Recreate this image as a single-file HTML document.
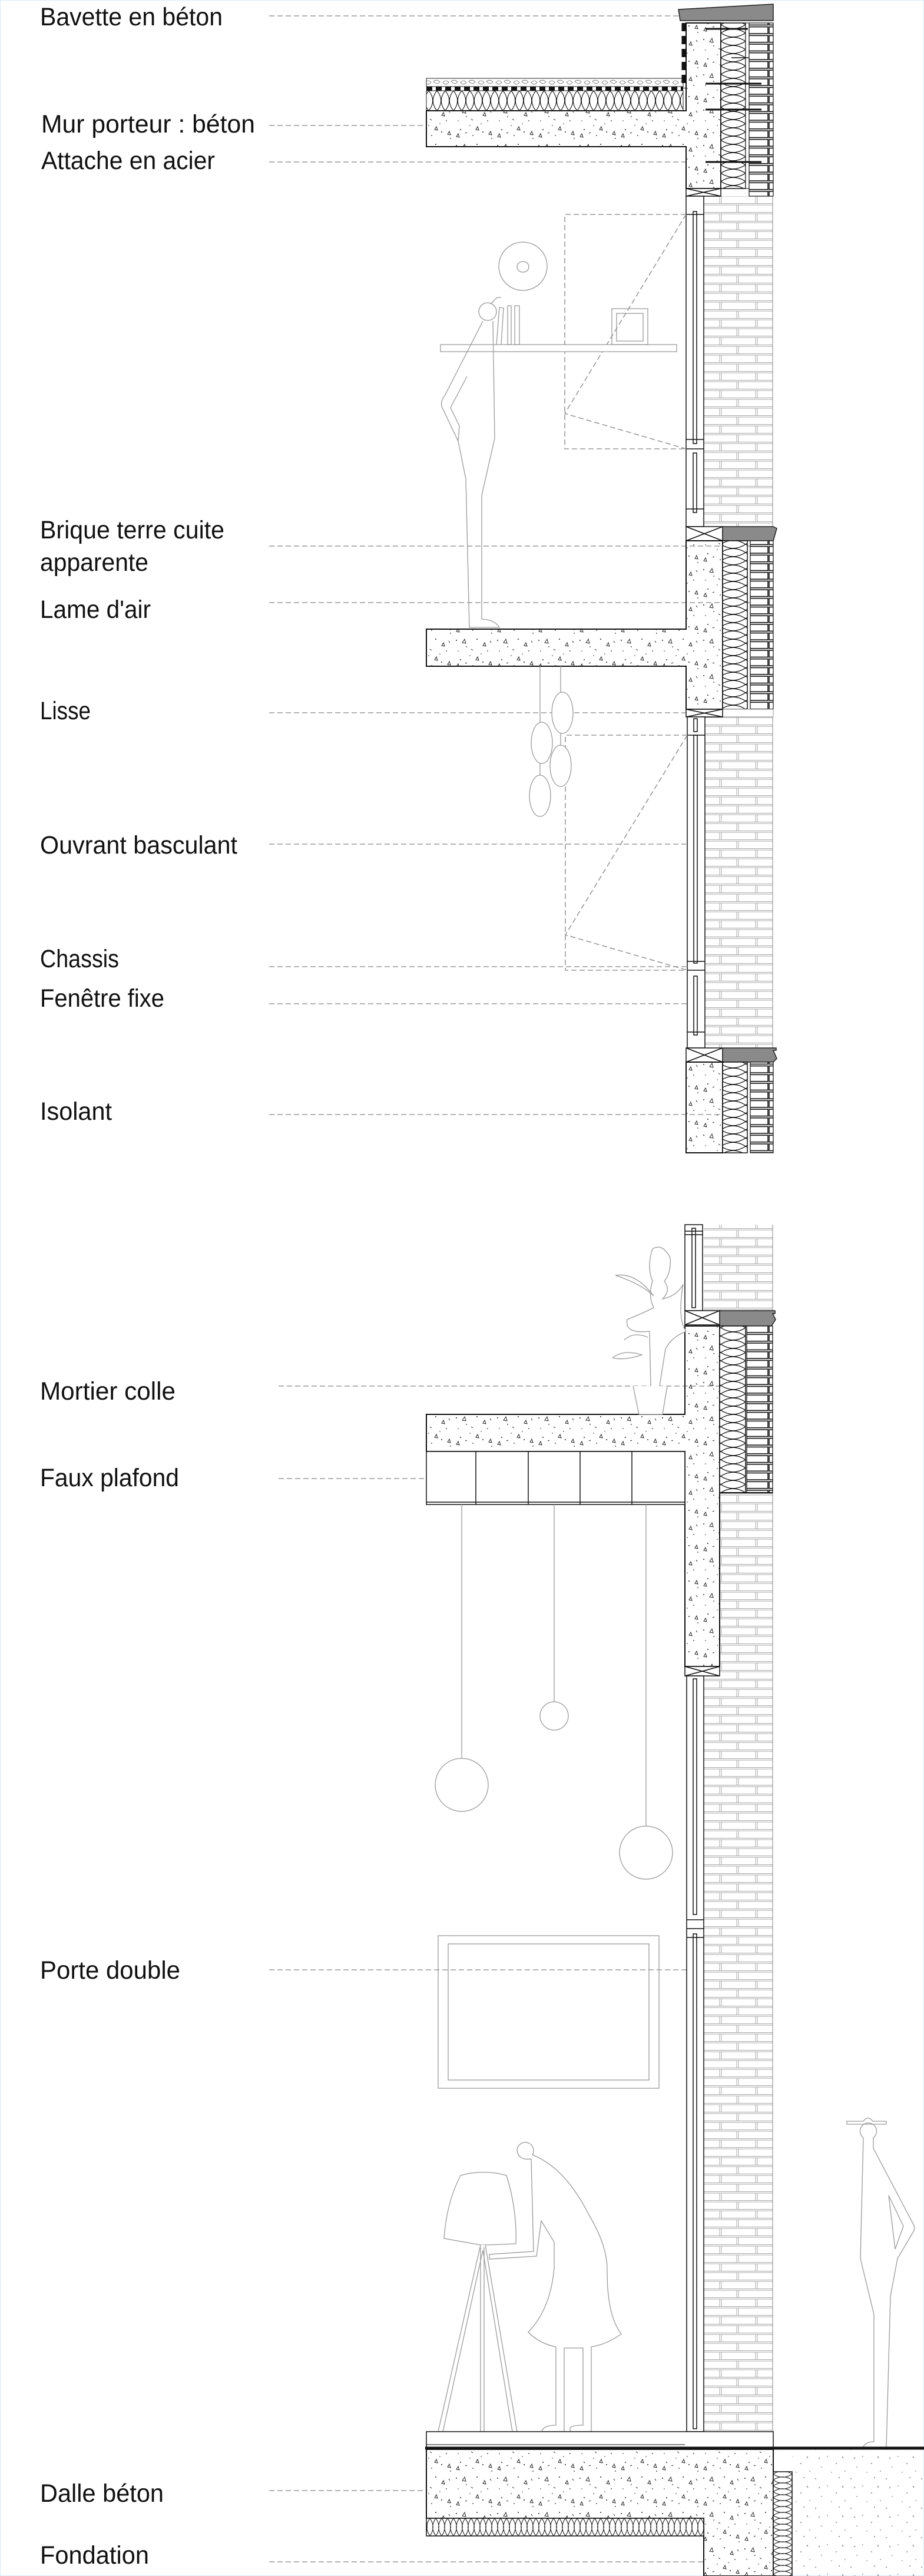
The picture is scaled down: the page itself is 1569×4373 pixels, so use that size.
<!DOCTYPE html>
<html><head><meta charset="utf-8"><style>
html,body{margin:0;padding:0;background:#fff}
svg{display:block}
text{font-family:"Liberation Sans Narrow","Liberation Sans",sans-serif;font-size:43px;fill:#111}
</style></head><body>
<svg width="1569" height="4373" viewBox="0 0 1569 4373" xmlns="http://www.w3.org/2000/svg">
<defs>
<pattern id="brick" x="1195" y="0" width="117" height="30" patternUnits="userSpaceOnUse">
<rect width="117" height="30" fill="#fff"/>
<g stroke="#a8a8a8" stroke-width="1" fill="none">
<line x1="0" y1="0.5" x2="117" y2="0.5"/><line x1="0" y1="3" x2="117" y2="3"/>
<line x1="0" y1="15.5" x2="117" y2="15.5"/><line x1="0" y1="18" x2="117" y2="18"/>
<line x1="27" y1="3" x2="27" y2="15"/><line x1="30" y1="3" x2="30" y2="15"/>
<line x1="88" y1="3" x2="88" y2="15"/><line x1="91" y1="3" x2="91" y2="15"/>
<line x1="56" y1="18" x2="56" y2="30"/><line x1="59" y1="18" x2="59" y2="30"/>
</g></pattern>
<pattern id="header" x="0" y="0" width="45" height="14.7" patternUnits="userSpaceOnUse">
<rect width="45" height="14.7" fill="#fff"/>
<rect x="1" y="1.5" width="43" height="11.5" fill="#fff" stroke="#111" stroke-width="1.6"/>
</pattern>
<pattern id="conc" x="0" y="0" width="70" height="60" patternUnits="userSpaceOnUse">
<g fill="#222">
<circle cx="5" cy="7" r="1"/><circle cx="22" cy="18" r="0.9"/><circle cx="40" cy="5" r="1"/><circle cx="58" cy="25" r="0.9"/>
<circle cx="12" cy="40" r="1"/><circle cx="33" cy="50" r="0.9"/><circle cx="50" cy="44" r="1"/><circle cx="65" cy="55" r="0.9"/>
<circle cx="28" cy="33" r="0.8"/><circle cx="8" cy="25" r="0.8"/><circle cx="47" cy="30" r="0.8"/>
</g>
<g fill="none" stroke="#222" stroke-width="1">
<path d="M15 11 l4 -6 l2 7 z"/><path d="M50 16 l3 -5 l2 6 z"/><path d="M38 40 l3 -5 l2 6 z"/><path d="M60 48 l3 -5 l2 6 z"/><path d="M5 52 l3 -5 l2 6 z"/>
<path d="M30 22 l3 2"/><path d="M62 8 l2 3"/><path d="M20 46 l3 -1"/>
</g></pattern>
<pattern id="soil" x="0" y="0" width="60" height="50" patternUnits="userSpaceOnUse">
<g fill="#555"><circle cx="5" cy="8" r="0.9"/><circle cx="25" cy="20" r="0.8"/><circle cx="45" cy="6" r="0.9"/><circle cx="15" cy="38" r="0.8"/><circle cx="40" cy="32" r="0.9"/><circle cx="55" cy="45" r="0.8"/><circle cx="32" cy="47" r="0.7"/></g>
<path d="M50 20 l2 3 M10 24 l2 -2" stroke="#555"/>
</pattern>
<pattern id="insV" x="1224" y="0" width="42" height="14" patternUnits="userSpaceOnUse">
<rect width="42" height="14" fill="#fff"/>
<path d="M0 0 C14 9 28 9 42 0 M0 14 C14 5 28 5 42 14" fill="none" stroke="#111" stroke-width="1.2"/>
</pattern>
<pattern id="insH" x="0" y="154" width="14" height="34" patternUnits="userSpaceOnUse">
<rect width="14" height="34" fill="#fff"/>
<path d="M0 0 C9 11 9 23 0 34 M14 0 C5 11 5 23 14 34" fill="none" stroke="#111" stroke-width="1.1"/>
</pattern>
<pattern id="insH2" x="0" y="4275" width="10" height="30" patternUnits="userSpaceOnUse">
<rect width="10" height="30" fill="#fff"/>
<path d="M0 0 C7 10 7 20 0 30 M10 0 C3 10 3 20 10 30" fill="none" stroke="#111" stroke-width="1"/>
</pattern>
<pattern id="insV2" x="1313" y="0" width="32" height="10" patternUnits="userSpaceOnUse">
<rect width="32" height="10" fill="#fff"/>
<path d="M0 0 C10 7 22 7 32 0 M0 10 C10 3 22 3 32 10" fill="none" stroke="#111" stroke-width="1"/>
</pattern>
<pattern id="gravel" x="0" y="133" width="30" height="14" patternUnits="userSpaceOnUse">
<rect width="30" height="14" fill="#fff"/>
<path d="M2 7 q5 -6 10 0 q-5 6 -10 0 M16 5 q6 -4 11 1 q-5 6 -11 -1" fill="none" stroke="#666" stroke-width="0.8"/>
</pattern>
</defs>

<rect x="0.5" y="0.5" width="1568" height="4372" fill="#fff" stroke="#d6ecf5" stroke-width="1"/>

<!-- ===== Labels ===== -->
<g>
<text x="68" y="43" textLength="310" lengthAdjust="spacingAndGlyphs">Bavette en béton</text>
<text x="70" y="225" textLength="363" lengthAdjust="spacingAndGlyphs">Mur porteur : béton</text>
<text x="70" y="287" textLength="295" lengthAdjust="spacingAndGlyphs">Attache en acier</text>
<text x="68" y="914" textLength="313" lengthAdjust="spacingAndGlyphs">Brique terre cuite</text>
<text x="68" y="969" textLength="184" lengthAdjust="spacingAndGlyphs">apparente</text>
<text x="68" y="1049" textLength="188" lengthAdjust="spacingAndGlyphs">Lame d'air</text>
<text x="68" y="1221" textLength="86" lengthAdjust="spacingAndGlyphs">Lisse</text>
<text x="68" y="1449" textLength="335" lengthAdjust="spacingAndGlyphs">Ouvrant basculant</text>
<text x="68" y="1642" textLength="134" lengthAdjust="spacingAndGlyphs">Chassis</text>
<text x="68" y="1709" textLength="211" lengthAdjust="spacingAndGlyphs">Fenêtre fixe</text>
<text x="68" y="1901" textLength="122" lengthAdjust="spacingAndGlyphs">Isolant</text>
<text x="68" y="2376" textLength="230" lengthAdjust="spacingAndGlyphs">Mortier colle</text>
<text x="68" y="2523" textLength="236" lengthAdjust="spacingAndGlyphs">Faux plafond</text>
<text x="68" y="3359" textLength="238" lengthAdjust="spacingAndGlyphs">Porte double</text>
<text x="68" y="4247" textLength="210" lengthAdjust="spacingAndGlyphs">Dalle béton</text>
<text x="68" y="4352" textLength="185" lengthAdjust="spacingAndGlyphs">Fondation</text>
</g>

<!-- leaders -->
<g stroke="#9a9a9a" stroke-width="1.6" stroke-dasharray="9,5" fill="none">
<line x1="457" y1="27" x2="1152" y2="27"/>
<line x1="457" y1="213" x2="724" y2="213"/>
<line x1="457" y1="275" x2="1165" y2="275"/>
<line x1="457" y1="927" x2="1280" y2="927"/>
<line x1="457" y1="1023" x2="1280" y2="1023"/>
<line x1="457" y1="1210" x2="1165" y2="1210"/>
<line x1="457" y1="1433" x2="1165" y2="1433"/>
<line x1="457" y1="1641" x2="1165" y2="1641"/>
<line x1="457" y1="1704" x2="1180" y2="1704"/>
<line x1="457" y1="1892" x2="1232" y2="1892"/>
<line x1="473" y1="2353" x2="1275" y2="2353"/>
<line x1="473" y1="2510" x2="724" y2="2510"/>
<line x1="457" y1="3344" x2="1175" y2="3344"/>
<line x1="457" y1="4228" x2="724" y2="4228"/>
<line x1="457" y1="4349" x2="1195" y2="4349"/>
</g>

<!-- ===== Brick facades (light) ===== -->
<rect x="1195" y="333" width="117" height="561" fill="url(#brick)"/>
<rect x="1195" y="1217" width="117" height="562" fill="url(#brick)"/>
<rect x="1195" y="2079" width="117" height="146" fill="url(#brick)"/>
<rect x="1222" y="2534" width="90" height="311" fill="url(#brick)"/>
<rect x="1195" y="2845" width="117" height="1283" fill="url(#brick)"/>
<g stroke="#999" fill="none" stroke-width="1.2">
<line x1="1312" y1="333" x2="1312" y2="894"/><line x1="1312" y1="1217" x2="1312" y2="1779"/>
<line x1="1312" y1="2079" x2="1312" y2="2225"/><line x1="1312" y1="2534" x2="1312" y2="4128"/>
</g>

<!-- ===== BLOCK 1 (top) ===== -->
<path d="M1152 16 L1313 7 L1313 35 L1155 35 Z" fill="#8a8a8a" stroke="#222" stroke-width="1.5"/>
<rect x="724" y="133" width="436" height="14" fill="url(#gravel)" stroke="#222"/>
<line x1="724" y1="150.5" x2="1160" y2="150.5" stroke="#111" stroke-width="7" stroke-dasharray="10,6"/>
<rect x="724" y="154" width="436" height="34" fill="url(#insH)" stroke="#222"/>
<path d="M724 188 H1165 V39 H1224 V320 H1165 V249 H724 Z" fill="url(#conc)" stroke="#111" stroke-width="2"/>
<line x1="1161" y1="39" x2="1161" y2="150" stroke="#111" stroke-width="7" stroke-dasharray="14,8"/>
<rect x="1224" y="39" width="42" height="281" fill="url(#insV)" stroke="#111" stroke-width="1.5"/>
<rect x="1266" y="39" width="6" height="281" fill="#fff" stroke="#111" stroke-width="1"/>
<rect x="1272" y="39" width="41" height="294" fill="url(#header)" stroke="#111" stroke-width="1.2"/>
<g stroke="#111" stroke-width="3">
<line x1="1198" y1="49" x2="1270" y2="49"/><line x1="1198" y1="142" x2="1293" y2="142"/>
<line x1="1198" y1="186" x2="1293" y2="186"/><line x1="1198" y1="275" x2="1293" y2="275"/>
<line x1="1242" y1="98" x2="1272" y2="98" stroke-width="1.5"/>
</g>
<g stroke="#111" stroke-width="1.5" fill="#fff">
<rect x="1165" y="320" width="59" height="13"/><path d="M1165 320 L1224 333 M1224 320 L1165 333" fill="none"/>
</g>

<g stroke="#111" stroke-width="1.5" fill="#fff">
<rect x="1165" y="333" width="30" height="561"/>
<rect x="1177" y="359" width="6" height="394"/>
<rect x="1177" y="769" width="6" height="101"/>
<line x1="1165" y1="746" x2="1195" y2="746"/><line x1="1165" y1="762" x2="1195" y2="762"/>
<line x1="1165" y1="364" x2="1195" y2="364"/><line x1="1165" y1="864" x2="1195" y2="864"/>
</g>
<g stroke="#9a9a9a" stroke-width="1.6" stroke-dasharray="9,5" fill="none">
<path d="M1165 364 H959 V762 H1165"/>
<path d="M1165 364 L959 702 L1165 762"/>
</g>
<g stroke="#9a9a9a" stroke-width="1.3" fill="none">
<circle cx="888" cy="452" r="41"/><ellipse cx="888" cy="453" rx="10" ry="9"/>
<rect x="748" y="585" width="401" height="12" fill="#fff"/>
<rect x="862" y="519" width="6" height="66"/><rect x="874" y="519" width="8" height="66"/>
<path d="M843 585 L848 522 L855 523 L851 585"/>
<rect x="1039" y="524" width="61" height="61"/><rect x="1047" y="532" width="45" height="47"/>
<path d="M828 514 a15 15 0 1 0 0.1 0 Z"/>
<path d="M837 545 L840 744 L818 841 L818 1051 Q840 1052 848 1065 L797 1065 L791 813 L778 749 L750 690 Q748 680 755 672 L820 545"/>
<path d="M793 639 L765 692 L780 723 L778 749"/>
<path d="M833 516 L844 505 L851 505"/>
</g>

<!-- ===== BLOCK 2 ===== -->
<g stroke="#111" stroke-width="1.5" fill="#fff">
<rect x="1165" y="894" width="62" height="24"/><path d="M1165 894 L1227 918 M1227 894 L1165 918" fill="none"/>
</g>
<path d="M1227 894 L1313 894 L1319 897 L1313 918 L1227 918 Z" fill="#8a8a8a" stroke="#222" stroke-width="1.5"/>
<path d="M724 1068 H1165 V918 H1227 V1204 H1165 V1131 H724 Z" fill="url(#conc)" stroke="#111" stroke-width="2"/>
<rect x="1227" y="918" width="42" height="286" fill="url(#insV)" stroke="#111" stroke-width="1.5"/>
<rect x="1274" y="918" width="39" height="286" fill="url(#header)" stroke="#111" stroke-width="1.2"/>
<rect x="1227" y="1204" width="86" height="13" fill="#fff" stroke="#999"/>
<g stroke="#111" stroke-width="1.5" fill="#fff">
<rect x="1165" y="1204" width="62" height="13"/><path d="M1165 1204 L1227 1217 M1227 1204 L1165 1217" fill="none"/>
</g>
<g stroke="#111" stroke-width="1.5" fill="#fff">
<rect x="1167" y="1217" width="30" height="562"/>
<rect x="1178" y="1220" width="6" height="22"/>
<rect x="1178" y="1248" width="6" height="387"/>
<rect x="1178" y="1657" width="6" height="100"/>
<line x1="1167" y1="1248" x2="1197" y2="1248"/>
<line x1="1167" y1="1632" x2="1197" y2="1632"/><line x1="1167" y1="1647" x2="1197" y2="1647"/>
<line x1="1167" y1="1752" x2="1197" y2="1752"/>
</g>
<g stroke="#9a9a9a" stroke-width="1.6" stroke-dasharray="9,5" fill="none">
<path d="M1167 1248 H960 V1647 H1167"/>
<path d="M1167 1248 L960 1587 L1167 1647"/>
</g>
<g stroke="#9a9a9a" stroke-width="1.3" fill="#fff">
<line x1="917" y1="1131" x2="917" y2="1316"/><line x1="952" y1="1131" x2="952" y2="1265"/>
<ellipse cx="955" cy="1210" rx="18" ry="35"/>
<ellipse cx="920" cy="1261" rx="18" ry="35"/>
<ellipse cx="952" cy="1300" rx="18" ry="35"/>
<ellipse cx="917" cy="1351" rx="18" ry="35"/>
</g>

<!-- ===== BLOCK 3 ===== -->
<g stroke="#111" stroke-width="1.5" fill="#fff">
<rect x="1165" y="1779" width="62" height="24"/><path d="M1165 1779 L1227 1803 M1227 1779 L1165 1803" fill="none"/>
</g>
<path d="M1227 1779 L1318 1779 L1318 1783 L1313 1783 L1319 1797 L1313 1803 L1227 1803 Z" fill="#8a8a8a" stroke="#222" stroke-width="1.5"/>
<rect x="1165" y="1803" width="62" height="154" fill="url(#conc)" stroke="#111" stroke-width="2"/>
<rect x="1227" y="1803" width="42" height="154" fill="url(#insV)" stroke="#111" stroke-width="1.5"/>
<rect x="1274" y="1803" width="39" height="154" fill="url(#header)" stroke="#111" stroke-width="1.2"/>

<!-- ===== BLOCK 4 (lower) ===== -->
<g stroke="#111" stroke-width="1.5" fill="#fff">
<rect x="1163" y="2079" width="30" height="146"/>
<rect x="1175" y="2085" width="6" height="135"/>
<line x1="1163" y1="2090" x2="1193" y2="2090"/><line x1="1163" y1="2096" x2="1193" y2="2096"/>
<rect x="1163" y="2225" width="59" height="24"/><path d="M1163 2225 L1222 2249 M1222 2225 L1163 2249" fill="none"/>
</g>
<path d="M1222 2225 L1316 2225 L1316 2230 L1312 2230 L1317 2240 L1310 2251 L1222 2251 Z" fill="#8a8a8a" stroke="#222" stroke-width="1.5"/>
<path d="M724 2401 H1163 V2251 H1222 V2829 H1163 V2464 H724 Z" fill="url(#conc)" stroke="#111" stroke-width="2"/>
<rect x="1222" y="2251" width="44" height="283" fill="url(#insV)" stroke="#111" stroke-width="1.5"/>
<rect x="1268" y="2251" width="44" height="283" fill="url(#header)" stroke="#111" stroke-width="1.2"/>
<line x1="1222" y1="2534" x2="1312" y2="2534" stroke="#111" stroke-width="2"/>
<g stroke="#111" stroke-width="1.5" fill="#fff">
<rect x="724" y="2464" width="439" height="90"/>
<line x1="808" y1="2464" x2="808" y2="2554"/><line x1="897" y1="2464" x2="897" y2="2554"/>
<line x1="985" y1="2464" x2="985" y2="2554"/><line x1="1073" y1="2464" x2="1073" y2="2554"/>
<line x1="724" y1="2550" x2="1163" y2="2550"/>
<rect x="1163" y="2829" width="59" height="16"/><path d="M1163 2829 L1222 2845 M1222 2829 L1163 2845" fill="none"/>
</g>
<g stroke="#9a9a9a" stroke-width="1.3" fill="#fff">
<path d="M1075 2353 L1085 2401 L1125 2401 L1133 2353"/>
<path d="M1105 2353 L1103 2260 Q1060 2265 1065 2240 Q1090 2230 1110 2220 Q1100 2200 1108 2175 Q1098 2150 1108 2120 Q1125 2110 1138 2135 Q1140 2160 1128 2175 Q1140 2190 1125 2205 Q1150 2200 1160 2180 Q1150 2240 1165 2260 Q1140 2270 1130 2290 L1120 2353"/>
<path d="M1045 2165 Q1080 2160 1110 2200 Q1090 2180 1045 2165"/>
<path d="M1040 2305 Q1060 2290 1090 2300 Q1060 2310 1040 2305"/>
<path d="M1060 2275 Q1075 2260 1100 2270"/>
</g>
<g stroke="#9a9a9a" stroke-width="1.3" fill="#fff">
<line x1="784" y1="2554" x2="784" y2="2985"/><circle cx="784" cy="3030" r="45"/>
<line x1="941" y1="2554" x2="941" y2="2889"/><circle cx="941" cy="2913" r="24"/>
<line x1="1097" y1="2554" x2="1097" y2="3100"/><circle cx="1097" cy="3145" r="45"/>
</g>
<g stroke="#111" stroke-width="1.5" fill="#fff">
<rect x="1166" y="2845" width="29" height="1283"/>
<rect x="1177" y="2850" width="6" height="400"/>
<rect x="1177" y="3283" width="6" height="840"/>
<line x1="1166" y1="3259" x2="1195" y2="3259"/><line x1="1166" y1="3274" x2="1195" y2="3274"/><line x1="1166" y1="3289" x2="1195" y2="3289"/>
</g>
<g stroke="#9a9a9a" stroke-width="1.3" fill="none">
<rect x="744" y="3286" width="375" height="259"/>
<rect x="761" y="3300" width="341" height="231"/>
</g>
<g stroke="#9a9a9a" stroke-width="1.3" fill="#fff">
<path d="M782 3693 Q821 3682 860 3693 Q878 3750 876 3809 L826 3811 L816 3811 L754 3800 Q758 3740 782 3693 Z"/>
<path d="M816 3811 L744 4128 L752 4128 L820 3820 L870 4128 L878 4128 L824 3811"/>
<line x1="816" y1="3815" x2="816" y2="4128"/><line x1="822" y1="3815" x2="822" y2="4128"/>
<path d="M902 3665 Q880 3668 878 3650 a14 14 0 1 1 26 8 Q960 3680 1000 3760 Q1030 3810 1031 3850 Q1030 3930 1055 3962 Q1030 3980 1004 3984 L1004 4128 L968 4128 L968 4122 Q970 4117 990 4117 L990 3986 L958 3986 L958 4128 L920 4128 Q922 4117 944 4117 L944 3984 Q915 3978 897 3959 Q935 3920 941 3850 L941 3806 L919 3770 L911 3830 L831 3835 L831 3827 L906 3822 Z"/>
</g>
<g stroke="#9a9a9a" stroke-width="1.3" fill="none">
<path d="M1438 3601 H1466 Q1474 3590 1482 3601 H1505 V3606 H1438 Z"/>
<path d="M1466 3629 a14 14 0 1 1 17 0 L1483 3647 L1551 3776 Q1555 3783 1550 3790 L1524 3834 L1512 3898 L1505 4155 M1466 3629 L1461 3834 L1484 3929 L1484 4145 Q1470 4145 1465 4155"/>
<path d="M1509 3727 L1534 3779 L1520 3818 L1509 3727"/>
</g>

<!-- ===== GROUND ===== -->
<rect x="724" y="4128" width="589" height="27" fill="#fff" stroke="#111" stroke-width="1.5"/>
<line x1="724" y1="4150" x2="1163" y2="4150" stroke="#111" stroke-width="1"/>
<rect x="1345" y="4158" width="224" height="215" fill="url(#soil)"/>
<path d="M724 4158 H1313 V4373 H1195 V4275 H724 Z" fill="url(#conc)" stroke="#111" stroke-width="2"/>
<rect x="724" y="4275" width="471" height="30" fill="url(#insH2)" stroke="#111" stroke-width="1.5"/>
<rect x="1313" y="4196" width="32" height="177" fill="url(#insV2)" stroke="#111" stroke-width="1.5"/>
<line x1="722" y1="4156" x2="1569" y2="4156" stroke="#111" stroke-width="5"/>
</svg>
</body></html>
